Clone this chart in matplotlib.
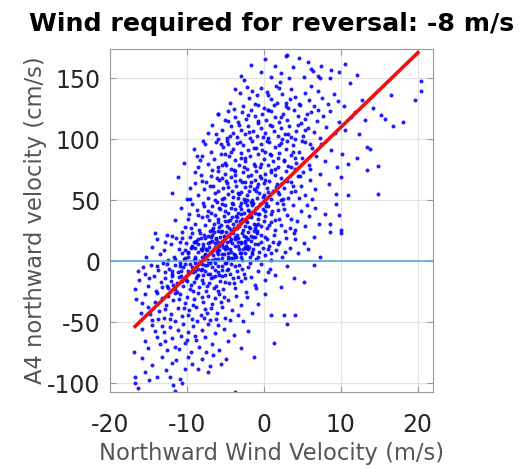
import matplotlib
matplotlib.use("Agg")
import matplotlib.pyplot as plt
import numpy as np

plt.rcParams['font.family'] = ['DejaVu Sans']
plt.rcParams['axes.unicode_minus'] = False

# (wind m/s, A4 velocity cm/s) pairs, grouped by velocity band
band_150 = [(3.0, 169), (-1.6, 161), (1.4, 160), (3.8, 159), (5.8, 163), (7.5, 160), (8.8, 157),
            (10.6, 162), (0.2, 166), (4.6, 167), (6.4, 156), (2.3, 154), (7.1, 152), (12.1, 153),
            (-0.4, 155), (5.2, 151), (9.8, 155), (1.0, 151), (3.3, 150), (-2.9, 152), (6.2, 158),
            (2.9, 168)]
band_125 = [(-2.6, 149), (2.1, 147), (7.3, 150), (8.6, 150), (11.2, 146), (20.4, 148), (20.5, 140),
            (19.7, 132), (16.6, 136), (14.2, 126), (-3.8, 141), (-3.1, 138), (-2.2, 143), (-1.5, 140),
            (-0.9, 136), (-0.3, 142), (0.4, 139), (0.9, 133), (1.6, 144), (2.4, 137), (2.9, 130),
            (3.5, 141), (4.1, 135), (4.7, 128), (5.3, 138), (5.9, 132), (6.5, 127), (7.0, 140),
            (7.6, 134), (8.3, 129), (9.1, 137), (9.7, 131), (10.4, 127), (-4.4, 130), (-2.7, 127),
            (-1.2, 129), (0.0, 126), (1.3, 128), (3.2, 126), (12.8, 132), (-1.9, 134), (6.1, 144)]
band_100 = [(-6.8, 112), (-6.2, 104), (-5.9, 121), (-5.5, 108), (-5.1, 116), (-4.8, 101), (-4.6, 123),
            (-4.3, 111), (-4.0, 105), (-3.8, 118), (-3.5, 102), (-3.3, 114), (-3.0, 108), (-2.8, 122),
            (-2.5, 104), (-2.3, 117), (-2.0, 111), (-1.8, 101), (-1.6, 124), (-1.4, 107), (-1.1, 119),
            (-0.9, 103), (-0.7, 113), (-0.4, 109), (-0.2, 121), (0.1, 105), (0.3, 116), (0.6, 101),
            (0.8, 112), (1.0, 123), (1.3, 107), (1.5, 118), (1.8, 103), (2.0, 114), (2.3, 109),
            (2.5, 121), (2.8, 104), (3.0, 116), (3.3, 111), (3.6, 102), (3.9, 124), (4.2, 107),
            (4.5, 119), (4.8, 113), (5.1, 103), (5.4, 117), (5.8, 109), (6.1, 122), (6.5, 106),
            (6.9, 115), (7.3, 101), (7.7, 119), (8.1, 110), (8.6, 123), (9.2, 105), (9.8, 114),
            (10.5, 108), (11.3, 118), (12.4, 104), (13.2, 116), (15.3, 120), (15.8, 117), (16.8, 111),
            (18.1, 114), (-6.0, 100), (-3.9, 125), (0.5, 124), (4.0, 100), (7.0, 124), (11.9, 122),
            (-7.3, 105), (-6.0, 121)]
band_75 = [(-10.4, 81), (-9.1, 92), (-8.6, 77), (-8.0, 86), (-7.6, 96), (-7.2, 80), (-6.9, 90),
           (-6.5, 84), (-6.2, 98), (-5.9, 77), (-5.6, 88), (-5.3, 94), (-5.0, 81), (-4.8, 99),
           (-4.5, 86), (-4.2, 76), (-4.0, 92), (-3.7, 83), (-3.5, 97), (-3.2, 79), (-3.0, 89),
           (-2.7, 95), (-2.5, 82), (-2.2, 76), (-2.0, 91), (-1.8, 86), (-1.5, 99), (-1.3, 80),
           (-1.0, 93), (-0.8, 88), (-0.5, 77), (-0.3, 96), (0.0, 84), (0.2, 90), (0.5, 79),
           (0.7, 98), (1.0, 87), (1.2, 82), (1.5, 94), (1.8, 77), (2.0, 89), (2.3, 97), (2.6, 83),
           (2.9, 92), (3.2, 78), (3.5, 87), (3.8, 95), (4.2, 81), (4.6, 90), (5.0, 85), (5.4, 98),
           (5.9, 79), (6.3, 93), (6.8, 86), (7.4, 96), (8.0, 82), (8.7, 91), (9.5, 77), (10.2, 88),
           (11.0, 80), (13.4, 94), (13.8, 92), (14.9, 78), (13.4, 75), (-6.8, 75), (-4.6, 96),
           (-2.9, 85), (-1.1, 78), (0.4, 99), (1.9, 85), (3.0, 99), (-7.9, 99), (-5.4, 79),
           (4.0, 76), (6.0, 76), (-8.3, 83), (12.1, 85), (-8.7, 86)]
band_50 = [(-12.0, 56), (-10.0, 51), (-8.1, 66), (-11.2, 69), (-9.6, 60), (-9.0, 73), (-8.6, 54),
           (-8.2, 71), (-7.8, 59), (-7.5, 65), (-7.2, 52), (-6.9, 70), (-6.6, 62), (-6.3, 56),
           (-6.0, 74), (-5.8, 67), (-5.5, 51), (-5.3, 60), (-5.0, 72), (-4.8, 64), (-4.6, 55),
           (-4.3, 69), (-4.1, 58), (-3.9, 75), (-3.6, 62), (-3.4, 52), (-3.1, 67), (-2.9, 57),
           (-2.7, 73), (-2.4, 61), (-2.2, 54), (-2.0, 70), (-1.7, 65), (-1.5, 50), (-1.3, 59),
           (-1.0, 74), (-0.8, 63), (-0.6, 56), (-0.3, 68), (-0.1, 53), (0.2, 72), (0.4, 60),
           (0.7, 66), (0.9, 51), (1.2, 58), (1.4, 71), (1.7, 63), (2.0, 55), (2.3, 68), (2.6, 60),
           (2.9, 74), (3.2, 52), (3.6, 65), (4.0, 58), (4.4, 70), (4.9, 62), (5.4, 54), (6.0, 67),
           (6.7, 59), (7.3, 72), (8.5, 63), (9.4, 55), (11.0, 54), (14.8, 55), (-6.4, 50),
           (-3.8, 71), (-1.9, 58), (0.0, 64), (1.0, 75), (2.5, 51), (-5.9, 58), (-4.0, 53),
           (-2.5, 65), (-0.5, 70), (1.8, 57), (3.8, 62), (5.1, 73), (-7.0, 62), (-3.2, 55),
           (-1.2, 67), (0.5, 57), (-8.9, 64), (-6.1, 68), (6.3, 51), (10.1, 69), (-2.6, 51),
           (-0.9, 61), (2.2, 63), (4.6, 52), (-4.9, 66), (-9.6, 51)]
band_25 = [(-11.5, 34), (-10.8, 44), (-10.2, 28), (-9.7, 39), (-9.3, 47), (-9.0, 31), (-8.7, 42),
           (-8.4, 26), (-8.1, 36), (-7.9, 48), (-7.6, 30), (-7.3, 41), (-7.1, 34), (-6.8, 45),
           (-6.6, 27), (-6.3, 38), (-6.1, 49), (-5.9, 32), (-5.7, 43), (-5.4, 25), (-5.2, 37),
           (-5.0, 46), (-4.8, 29), (-4.6, 40), (-4.4, 34), (-4.1, 48), (-3.9, 27), (-3.7, 43),
           (-3.5, 36), (-3.3, 30), (-3.1, 45), (-2.9, 39), (-2.7, 26), (-2.5, 49), (-2.3, 33),
           (-2.1, 42), (-1.9, 28), (-1.7, 37), (-1.5, 46), (-1.3, 31), (-1.1, 40), (-0.9, 25),
           (-0.7, 35), (-0.5, 47), (-0.3, 29), (-0.1, 43), (0.2, 37), (0.4, 27), (0.6, 45),
           (0.9, 32), (1.1, 41), (1.4, 26), (1.7, 48), (2.0, 35), (2.3, 30), (2.6, 43), (3.0, 38),
           (3.4, 27), (3.8, 46), (4.3, 33), (4.8, 41), (5.3, 29), (5.9, 37), (6.6, 44), (7.2, 31),
           (7.9, 39), (8.6, 31), (9.4, 47), (9.8, 38), (10.1, 26), (-7.0, 25), (-6.0, 35),
           (-5.0, 41), (-4.0, 31), (-3.0, 48), (-2.0, 36), (-1.0, 44), (0.0, 33), (1.0, 39),
           (2.5, 47), (-8.6, 38), (-7.8, 45), (-6.5, 31), (-5.5, 47), (-4.5, 27), (-3.4, 40),
           (-2.4, 29), (-1.6, 49), (-0.6, 39), (0.7, 30), (1.9, 42), (3.6, 35), (-9.9, 35),
           (-5.8, 28), (-3.6, 33), (-1.2, 27), (0.3, 48), (2.8, 25), (-6.9, 40), (-4.2, 44),
           (-2.8, 35), (-0.8, 31), (1.5, 34), (5.6, 46), (-7.4, 37), (-5.1, 33), (-2.2, 46),
           (0.1, 41), (-9.5, 27), (4.0, 26)]
band_0 = [(-13.5, 6), (-12.4, 1), (-14.6, 12), (-13.9, 18), (-13.0, 9), (-12.6, 22), (-12.1, 14),
          (-11.7, 4), (-11.4, 19), (-11.0, 10), (-10.7, 24), (-10.4, 2), (-10.1, 15), (-9.9, 7),
          (-9.6, 20), (-9.3, 12), (-9.1, 1), (-8.8, 17), (-8.6, 8), (-8.3, 23), (-8.1, 4),
          (-7.9, 14), (-7.6, 19), (-7.4, 9), (-7.2, 0), (-7.0, 16), (-6.8, 22), (-6.6, 5),
          (-6.4, 12), (-6.2, 18), (-6.0, 2), (-5.8, 9), (-5.6, 24), (-5.4, 14), (-5.2, 6),
          (-5.0, 20), (-4.8, 11), (-4.6, 1), (-4.4, 17), (-4.2, 8), (-4.0, 23), (-3.8, 13),
          (-3.6, 4), (-3.4, 19), (-3.2, 10), (-3.0, 15), (-2.8, 1), (-2.6, 21), (-2.4, 7),
          (-2.2, 13), (-2.0, 24), (-1.8, 4), (-1.6, 17), (-1.4, 10), (-1.2, 20), (-1.0, 2),
          (-0.8, 14), (-0.6, 8), (-0.3, 22), (-0.1, 11), (0.2, 5), (0.4, 18), (0.7, 13), (1.0, 1),
          (1.3, 22), (1.6, 9), (2.0, 16), (2.4, 4), (2.9, 19), (3.4, 11), (3.9, 23), (4.5, 7),
          (5.2, 15), (5.8, 10), (6.5, 20), (7.3, 4), (8.6, 24), (10.1, 23), (-10.9, 16),
          (-9.8, 4), (-8.9, 11), (-8.2, 19), (-7.7, 5), (-7.1, 12), (-6.5, 24), (-5.9, 16),
          (-5.5, 3), (-4.9, 13), (-4.5, 21), (-3.9, 6), (-3.3, 16), (-2.7, 10), (-2.1, 18),
          (-1.5, 6), (-0.9, 23), (-0.4, 16), (0.1, 20), (0.9, 7), (-11.9, 21), (-10.3, 9),
          (-9.4, 23), (-8.5, 14), (-7.8, 2), (-6.9, 8), (-6.3, 15), (-5.7, 20), (-5.1, 10),
          (-4.3, 3), (-3.7, 18), (-3.1, 7), (-2.5, 15), (-1.9, 12), (-1.3, 25), (-0.7, 4),
          (0.5, 10), (1.8, 14), (-9.0, 16), (-8.0, 9), (-7.3, 21), (-6.7, 1), (-6.1, 10),
          (-5.3, 17), (-4.7, 7), (-4.1, 15), (-3.5, 22), (-2.9, 4), (-2.3, 11), (-1.7, 21),
          (-15.3, 4), (-14.2, 23), (-12.9, 16), (1.2, 16), (2.7, 8), (4.0, 18), (-10.6, 19),
          (-6.0, 6)]
band_m25 = [(-16.8, -23), (-16.2, -15), (-15.7, -5), (-15.4, -10), (-15.0, -20), (-14.7, -3),
            (-14.3, -12), (-14.0, -24), (-13.7, -7), (-13.4, -17), (-13.1, -1), (-12.8, -14),
            (-12.5, -22), (-12.3, -6), (-12.0, -10), (-11.8, -19), (-11.5, -3), (-11.3, -25),
            (-11.0, -13), (-10.8, -8), (-10.5, -20), (-10.3, -2), (-10.1, -15), (-9.8, -10),
            (-9.6, -23), (-9.4, -5), (-9.1, -17), (-8.9, -1), (-8.7, -12), (-8.4, -21), (-8.2, -7),
            (-8.0, -15), (-7.7, -3), (-7.5, -24), (-7.3, -10), (-7.1, -18), (-6.8, -5), (-6.6, -13),
            (-6.4, -1), (-6.2, -20), (-6.0, -9), (-5.7, -16), (-5.5, -4), (-5.3, -23), (-5.0, -11),
            (-4.8, -7), (-4.5, -18), (-4.3, -2), (-4.0, -14), (-3.7, -22), (-3.5, -8), (-3.2, -3),
            (-2.9, -16), (-2.6, -10), (-2.3, -25), (-2.0, -5), (-1.6, -13), (-1.2, -19), (-0.8, -8),
            (-0.3, -2), (0.2, -15), (0.8, -6), (1.5, -11), (2.3, -21), (3.0, -4), (3.9, -14),
            (5.2, -17), (6.5, -3), (-13.9, -4), (-12.9, -9), (-12.1, -16), (-11.6, -23),
            (-10.9, -4), (-10.1, -12), (-9.5, -19), (-9.0, -8), (-8.5, -2), (-7.9, -11),
            (-7.4, -20), (-6.9, -14), (-6.3, -7), (-5.9, -24), (-5.4, -12), (-4.9, -1),
            (-4.4, -10), (-3.9, -18), (-3.4, -13), (-2.8, -6), (-16.3, -8), (-14.9, -14),
            (-13.3, -21), (-12.6, -2), (-11.2, -9), (-10.6, -16), (-9.2, -24), (-8.6, -6),
            (-7.9, -18), (-7.0, -1), (-6.5, -22), (-5.8, -11), (-5.1, -17), (-4.6, -6), (-3.8, -4),
            (-2.4, -14), (-1.8, -1), (-1.0, -22), (0.5, -9), (-11.9, -12)]
band_m50 = [(-16.6, -31), (-16.0, -42), (-15.4, -27), (-15.0, -37), (-14.6, -48), (-14.2, -33),
            (-13.9, -26), (-13.6, -41), (-13.3, -30), (-13.0, -46), (-12.7, -36), (-12.4, -28),
            (-12.1, -43), (-11.8, -32), (-11.5, -49), (-11.2, -38), (-10.9, -27), (-10.6, -45),
            (-10.3, -34), (-10.0, -29), (-9.7, -40), (-9.4, -47), (-9.1, -31), (-8.8, -37),
            (-8.5, -26), (-8.2, -44), (-7.9, -33), (-7.6, -39), (-7.3, -28), (-7.0, -48),
            (-6.7, -35), (-6.4, -30), (-6.1, -42), (-5.8, -27), (-5.4, -37), (-5.0, -46),
            (-4.6, -32), (-4.1, -40), (-3.6, -28), (-3.0, -36), (-2.2, -29), (-0.7, -35),
            (1.0, -44), (2.6, -44), (4.1, -44), (-1.5, -42), (0.2, -27), (-12.9, -39), (-11.0, -31),
            (-9.9, -44), (-8.7, -49), (-7.4, -42), (-6.2, -47), (-5.2, -29), (-14.8, -43),
            (-12.2, -47), (-10.4, -38), (-8.0, -29), (-6.9, -38), (-4.4, -48), (-3.3, -44),
            (-15.8, -34), (-13.8, -47), (-11.6, -26), (-9.2, -36), (-7.8, -46), (-5.6, -33),
            (-2.7, -49)]
band_m75 = [(3.0, -51), (1.3, -67), (-15.4, -65), (-14.1, -57), (-13.9, -62), (-16.9, -74),
            (-15.9, -55), (-15.0, -71), (-14.5, -52), (-13.5, -68), (-13.0, -58), (-12.6, -73),
            (-12.2, -54), (-11.9, -63), (-11.5, -70), (-11.1, -56), (-10.8, -61), (-10.5, -51),
            (-10.2, -67), (-9.8, -58), (-9.5, -74), (-9.2, -53), (-8.8, -64), (-8.4, -70),
            (-8.0, -56), (-7.6, -62), (-7.2, -51), (-6.8, -68), (-6.3, -59), (-5.8, -73),
            (-5.2, -55), (-4.6, -65), (-3.9, -60), (-3.0, -71), (-12.8, -65), (-11.0, -72),
            (-9.0, -61), (-7.5, -74), (-6.0, -52), (-2.0, -57), (-10.0, -64), (-13.2, -53)]
band_m100 = [(-16.7, -95), (-16.7, -100), (-15.4, -91), (-13.9, -95), (-12.2, -95), (-10.9, -96),
             (-10.6, -100), (-12.0, -83), (-10.2, -88), (-8.5, -88), (-1.3, -78), (-3.8, -107),
             (-16.4, -104), (-15.9, -79), (-14.6, -85), (-13.3, -78), (-12.7, -89), (-11.4, -81),
             (-9.8, -78), (-9.3, -84), (-8.0, -80), (-7.3, -91), (-6.6, -77), (-5.6, -84),
             (-4.9, -80), (-14.9, -97), (-11.8, -101), (-7.0, -86), (-11.6, -106)]
# denser core of the cloud along the fit
core_low = [(-10.8, -12), (-10.5, -5), (-10.2, 3), (-10.0, -16), (-9.8, 8), (-9.6, -2), (-9.4, 13),
            (-9.2, -9), (-9.0, 4), (-8.8, -14), (-8.6, 18), (-8.4, 0), (-8.2, 10), (-8.0, -6),
            (-7.8, 22), (-7.6, 6), (-7.4, -3), (-7.2, 15), (-7.0, -10), (-6.8, 26), (-6.6, 9),
            (-6.4, 2), (-6.2, 19), (-6.0, -4), (-5.8, 13), (-5.6, 30), (-5.4, 6), (-5.2, 21),
            (-5.0, -1), (-4.8, 16), (-4.6, 33), (-4.4, 10), (-4.2, 26), (-4.0, 3), (-3.8, 20),
            (-3.6, 37), (-3.4, 13), (-3.2, 29), (-3.0, 7), (-2.8, 23), (-2.6, 40), (-2.4, 17),
            (-2.2, 32), (-2.0, 10), (-1.8, 27), (-1.6, 36), (-1.4, 20), (-1.2, 14), (-1.0, 30),
            (-0.8, 39), (-10.6, 7), (-9.9, -8), (-9.1, 16), (-8.5, -11), (-7.9, 12), (-7.3, 1),
            (-6.7, 17), (-6.1, 8), (-5.5, -7), (-4.9, 24), (-4.3, 18), (-3.7, 5), (-3.1, 33),
            (-2.5, 12), (-1.9, 41), (-8.9, 2), (-7.7, -8), (-6.9, 20), (-5.9, 25), (-4.7, 4),
            (-3.5, 27), (-2.3, 20), (-1.5, 8), (-6.3, -12), (-7.5, 10), (-5.3, 12), (-4.1, 36),
            (-2.9, 16), (-8.1, -2), (-9.5, 11), (-11.3, -18), (-12.0, -8), (-12.6, -20),
            (-11.6, 2), (-10.9, -1)]
core_high = [(-5.8, 44), (-5.2, 52), (-4.6, 61), (-4.0, 47), (-3.4, 56), (-2.8, 65), (-2.2, 50),
             (-1.6, 71), (-1.0, 58), (-0.4, 80), (0.2, 67), (0.8, 88), (1.4, 76), (2.0, 95),
             (2.6, 82), (3.2, 104), (3.8, 90), (4.4, 112), (5.0, 99), (5.6, 121), (-5.5, 68),
             (-4.9, 79), (-4.3, 90), (-3.7, 74), (-3.1, 98), (-2.5, 85), (-1.9, 106), (-1.3, 93),
             (-0.7, 115), (-0.1, 102), (0.5, 124), (1.1, 111), (1.7, 130), (2.3, 118), (2.9, 127),
             (3.5, 77), (4.1, 85), (4.7, 70), (-3.0, 43), (-1.4, 48), (0.0, 54), (1.6, 61),
             (3.0, 66), (-4.4, 103), (-3.2, 112), (-2.0, 120), (-0.8, 128), (0.6, 136), (2.0, 142),
             (3.4, 133), (4.6, 129), (5.4, 108), (6.0, 96), (-5.0, 88), (-2.6, 77), (-0.2, 91),
             (2.4, 100), (1.0, 73), (-1.8, 62), (-3.8, 66), (0.3, 45), (-0.9, 52), (2.2, 50),
             (3.6, 57), (-4.6, 115), (-5.6, 96)]

# fitted line: zero crossing at -8 m/s
fit_wind = [-16.9, 20.2]
fit_vel = [-54.3, 172.0]

x_ticks = [-20, -10, 0, 10, 20]
y_ticks = [-100, -50, 0, 50, 100, 150]

bands = [band_150, band_125, band_100, band_75, band_50, band_25, band_0,
         band_m25, band_m50, band_m75, band_m100, core_low, core_high]
pts = np.array([p for b in bands for p in b], dtype=float)

fig = plt.figure(figsize=(5.2, 4.69), dpi=100)
ax = fig.add_axes([0.2115, 0.1642, 0.6212, 0.7313])

ax.plot(pts[:, 0], pts[:, 1], '.', color='blue', markersize=3.8, alpha=0.8)
ax.axhline(0, color='#5aaad8', linewidth=1.2, zorder=3)
ax.plot(fit_wind, fit_vel, color='#f01010', linewidth=2.6, solid_capstyle='butt', zorder=4)

ax.set_xlim(-19.8, 22)
ax.set_ylim(-107, 174)
ax.set_xticks(x_ticks)
ax.set_yticks(y_ticks)
ax.grid(True, color='#e2e2e2', linewidth=0.8)
ax.set_axisbelow(True)
ax.tick_params(direction='in', length=4, top=True, right=True, colors='#9a9a9a',
               labelcolor='#262626', labelsize=17)
ax.tick_params(axis='x', pad=15)
ax.tick_params(axis='y', pad=7)
for s in ax.spines.values():
    s.set_color('#9a9a9a')

ax.set_xlabel('Northward Wind Velocity (m/s)', fontsize=16.3, color='#555555', labelpad=4)
ax.set_ylabel('A4 northward velocity (cm/s)', fontsize=16.3, color='#555555', labelpad=0)
ax.set_title('Wind required for reversal: -8 m/s', fontsize=18.2, fontweight='bold', pad=13)

fig.savefig('out.png', dpi=100)
